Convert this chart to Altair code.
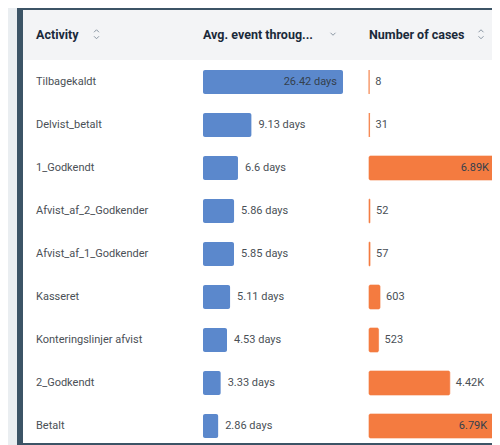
import altair as alt
import pandas as pd

# ---- data ----
activities = ["Tilbagekaldt", "Delvist_betalt", "1_Godkendt", "Afvist_af_2_Godkender",
              "Afvist_af_1_Godkender", "Kasseret", "Konteringslinjer afvist", "2_Godkendt", "Betalt"]
avg_days = [26.42, 9.13, 6.6, 5.86, 5.85, 5.11, 4.53, 3.33, 2.86]
cases = [8, 31, 6890, 52, 57, 603, 523, 4420, 6790]
headers = ["Activity", "Avg. event throug...", "Number of cases"]

df = pd.DataFrame({"activity": activities, "avg": avg_days, "cases": cases})
one = pd.DataFrame({"k": [0]})

FONT = "Roboto, Open Sans, sans-serif"
BLUE = "#5b88cc"
ORANGE = "#f47b40"
BORDER = "#3c5466"
HEADER_BG = "#f3f4f6"
OUTER_BG = "#eaeef1"

W, H = 484, 437

y_scale = alt.Scale(domain=activities, range=[52.5, 439.5], paddingInner=0.442, paddingOuter=0.221)
bx = alt.Scale(domain=[0, max(avg_days)], range=[195, 335])
ox = alt.Scale(domain=[0, max(cases)], range=[361, 487])
Y = alt.Y("activity:N", scale=y_scale, axis=None)


def rect(x1, x2, y1, y2, color):
    return alt.Chart(one).mark_rect(color=color).encode(
        x=alt.value(x1), x2=alt.value(x2), y=alt.value(y1), y2=alt.value(y2))


def head_text(x, label):
    return alt.Chart(one).mark_text(
        text=label, align="left", baseline="middle", font=FONT, fontSize=12.5,
        fontWeight="bold", color="#1a2a3a").encode(x=alt.value(x), y=alt.value(27))


def chevron(x, y, up=True):
    path = "M-1,0.5L0,-0.5L1,0.5" if up else "M-1,-0.5L0,0.5L1,-0.5"
    return alt.Chart(one).mark_point(
        shape=path, filled=False, size=25, stroke="#8a96a3", strokeWidth=1, opacity=1).encode(
        x=alt.value(x), y=alt.value(y))


decor = [
    rect(9, 520, -10, 437, BORDER),
    rect(15, 520, 2, 435, "white"),
    rect(15, 520, 2, 52, HEADER_BG),
    head_text(28, headers[0]),
    head_text(195, headers[1]),
    head_text(361, headers[2]),
    chevron(88.5, 23, True), chevron(88.5, 29.5, False),
    chevron(325, 26, False),
    chevron(473, 23, True), chevron(473, 29.5, False),
]

base = alt.Chart(df).transform_calculate(
    avg_label="format(datum.avg, '.2~f') + ' days'",
    cases_label="datum.cases >= 1000 ? format(datum.cases / 1000, '.2f') + 'K' : format(datum.cases, 'd')",
)

labels = base.mark_text(align="left", baseline="middle", font=FONT, fontSize=11,
                        color="#4a5056").encode(x=alt.value(28), y=Y, text="activity:N")

blue_bars = base.mark_bar(color=BLUE, cornerRadius=2).encode(
    x=alt.X("avg:Q", scale=bx, axis=None), x2=alt.datum(0), y=Y)

thr_avg = 0.8 * max(avg_days)
thr_cases = 0.8 * max(cases)

blue_in = base.transform_filter(f"datum.avg > {thr_avg}").mark_text(
    align="right", baseline="middle", dx=-6, font=FONT, fontSize=11, color="#34404c").encode(
    x=alt.X("avg:Q", scale=bx, axis=None), y=Y, text="avg_label:N")
blue_out = base.transform_filter(f"datum.avg <= {thr_avg}").mark_text(
    align="left", baseline="middle", dx=7, font=FONT, fontSize=11, color="#4a5056").encode(
    x=alt.X("avg:Q", scale=bx, axis=None), y=Y, text="avg_label:N")

orange_bars = base.mark_bar(color=ORANGE, cornerRadius=1.5, stroke=ORANGE, strokeWidth=0.8,
                            strokeOpacity=0.8).encode(
    x=alt.X("cases:Q", scale=ox, axis=None), x2=alt.datum(0), y=Y)

orange_in = base.transform_filter(f"datum.cases > {thr_cases}").mark_text(
    align="right", baseline="middle", dx=-6, font=FONT, fontSize=11, color="#34404c").encode(
    x=alt.X("cases:Q", scale=ox, axis=None), y=Y, text="cases_label:N")
orange_out = base.transform_filter(f"datum.cases <= {thr_cases}").mark_text(
    align="left", baseline="middle", dx=6, font=FONT, fontSize=11, color="#4a5056").encode(
    x=alt.X("cases:Q", scale=ox, axis=None), y=Y, text="cases_label:N")

chart = alt.layer(
    *decor, labels, blue_bars, blue_in, blue_out, orange_bars, orange_in, orange_out
).resolve_scale(x="independent").properties(
    width=W, height=H, autosize=alt.AutoSizeParams(type="none"), padding=0,
    background=OUTER_BG,
).configure_view(stroke=None)

chart.save("out.html", embed_options={"renderer": "svg", "actions": False})
